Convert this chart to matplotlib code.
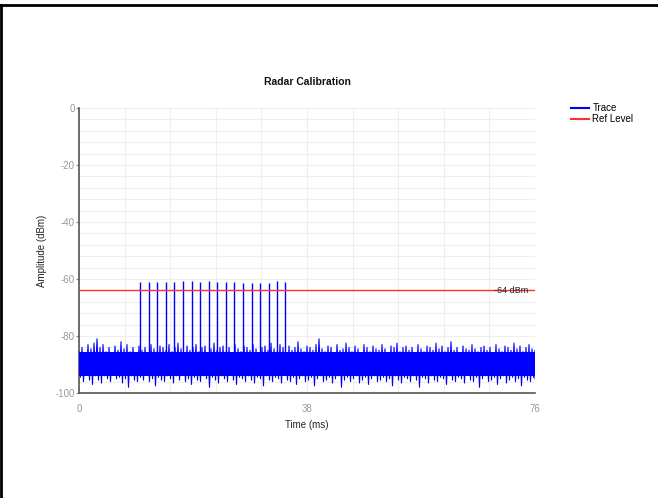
import numpy as np
import matplotlib
matplotlib.use("Agg")
import matplotlib.pyplot as plt
from matplotlib.lines import Line2D

plt.rcParams['font.family'] = ['Liberation Sans', 'DejaVu Sans']
plt.rcParams['axes.unicode_minus'] = False

# ---- data ----
title = "Radar Calibration"
x_label = "Time (ms)"
y_label = "Amplitude (dBm)"
x_ticks = [0, 38, 76]
y_ticks = [0, -20, -40, -60, -80, -100]
ref_level = -64
ref_text = "-64 dBm"

# pulse train
pulse_times = [10.2, 11.6, 13.0, 14.5, 15.9, 17.3, 18.8, 20.2, 21.6, 23.0,
               24.5, 25.9, 27.3, 28.8, 30.2, 31.6, 33.0, 34.4]
pulse_amps = [-61.0, -61.0, -61.0, -61.0, -61.0, -60.8, -60.8, -61.2, -60.8, -61.2,
              -61.2, -61.2, -61.3, -61.3, -61.3, -61.3, -60.8, -61.0]
pulse_base = -86.0

# noise floor: upper peaks and lower dips, two pairs per ms (0..76 ms)
noise_hi = [
    -85.5, -84.0, -86.0, -83.0, -84.5, -82.5, -81.0, -84.0, -83.0, -85.5,
    -84.0, -86.0, -83.5, -85.0, -82.0, -84.5, -83.0, -85.5, -84.0, -86.0,
    -83.5, -85.0, -84.0, -86.5, -83.0, -84.5, -85.5, -83.5, -84.0, -85.0,
    -83.0, -85.5, -84.0, -82.5, -84.5, -86.0, -83.5, -85.0, -84.0, -83.0,
    -85.5, -84.0, -83.5, -86.0, -84.5, -82.5, -85.0, -84.0, -83.5, -85.5,
    -84.0, -86.0, -83.0, -84.5, -85.5, -83.5, -84.0, -85.0, -83.0, -84.5,
    -86.0, -84.0, -83.5, -85.0, -82.5, -84.5, -85.5, -83.0, -84.0, -86.0,
    -83.5, -85.0, -84.0, -82.0, -84.5, -85.5, -83.5, -84.0, -85.0, -83.0,
    -81.0, -84.5, -85.5, -83.5, -84.0, -86.0, -83.0, -85.0, -84.5, -82.5,
    -84.0, -85.5, -83.5, -84.5, -86.0, -83.0, -84.0, -85.5, -83.5, -84.5,
    -85.0, -83.0, -84.5, -86.0, -83.5, -84.0, -82.5, -85.5, -84.0, -83.5,
    -85.0, -84.0, -86.0, -83.0, -84.5, -85.5, -83.5, -84.0, -85.0, -82.5,
    -84.5, -83.5, -85.5, -84.0, -82.0, -85.0, -84.0, -86.0, -83.5, -84.5,
    -85.0, -83.0, -84.5, -85.5, -84.0, -83.5, -85.0, -84.0, -86.0, -83.0,
    -84.5, -85.5, -83.5, -84.0, -85.0, -82.5, -84.5, -83.5, -85.5, -84.0,
    -83.0, -84.5, -85.0]
noise_lo = [
    -94.5, -96.0, -93.5, -95.5, -97.0, -94.0, -95.5, -96.5, -94.0, -95.0,
    -96.0, -93.5, -95.0, -94.5, -96.5, -95.0, -98.0, -94.0, -95.5, -96.0,
    -94.5, -95.5, -93.5, -96.0, -95.0, -97.5, -94.5, -95.5, -96.0, -94.0,
    -95.0, -96.5, -94.0, -95.5, -93.5, -96.0, -95.0, -97.0, -94.5, -95.5,
    -96.0, -94.0, -95.0, -98.0, -94.5, -95.5, -96.5, -94.0, -95.0, -96.0,
    -93.5, -95.5, -97.0, -94.5, -95.0, -96.0, -94.0, -95.5, -96.5, -94.5,
    -95.0, -97.5, -94.0, -95.5, -96.0, -94.5, -95.0, -96.5, -93.5, -95.5,
    -96.0, -94.5, -97.0, -95.0, -94.0, -96.0, -95.5, -94.5, -97.5, -95.0,
    -94.0, -96.0, -95.5, -94.5, -96.5, -95.0, -94.0, -98.0, -95.5, -94.5,
    -96.0, -95.0, -94.0, -96.5, -95.5, -94.5, -97.0, -95.0, -94.0, -96.0,
    -95.5, -94.5, -96.0, -95.0, -97.5, -94.0, -95.5, -96.5, -94.5, -95.0,
    -96.0, -94.0, -95.5, -98.0, -94.5, -95.0, -96.5, -94.0, -95.5, -96.0,
    -94.5, -95.0, -97.0, -94.0, -95.5, -96.0, -94.5, -95.0, -96.5, -93.5,
    -95.5, -96.0, -94.5, -98.0, -95.0, -94.0, -96.0, -95.5, -94.5, -97.0,
    -95.0, -94.0, -96.5, -95.5, -94.5, -96.0, -95.0, -97.5, -94.5, -95.5,
    -96.0, -94.5, -95.0]
noise_core = (-85.5, -94.0)

# ---- figure ----
W, H = 658, 498
fig = plt.figure(figsize=(W / 100, H / 100), dpi=100)
ax = fig.add_axes([79 / W, 1 - 393 / H, (535 - 79) / W, (393 - 108) / H])

blue = "#0000ff"
red = "#ff3030"

# noise trace as a zig-zag between peaks and dips
n = len(noise_hi)
t_hi = np.linspace(0, 76, n)
step = t_hi[1] - t_hi[0]
t_lo = np.minimum(t_hi + step / 2, 76)
tz = np.column_stack([t_hi, t_lo]).ravel()
yz = np.column_stack([noise_hi, noise_lo]).ravel()
ax.fill_between(t_hi, noise_core[0], noise_core[1], color=blue, lw=0, zorder=3)
ax.plot(tz, yz, color=blue, lw=0.8, zorder=3)
ax.vlines(pulse_times, pulse_base, pulse_amps, color=blue, lw=1.0, zorder=3)

ax.axhline(ref_level, color=red, lw=1.0, zorder=4)
ax.text(74.8, ref_level, ref_text, ha='right', va='center', fontsize=6.5,
        color='#222222', zorder=5)

ax.set_xlim(0, 76)
ax.set_ylim(-100, 0)
ax.set_xticks(x_ticks)
ax.set_yticks(y_ticks)
ax.set_xticks(np.linspace(0, 76, 11), minor=True)
ax.set_yticks(np.arange(-100, 1, 4), minor=True)
ax.grid(which='both', color='#efefef', lw=0.8, zorder=0)
ax.tick_params(which='minor', length=0)
ax.tick_params(which='major', length=2, width=0.8, color='#888888',
               labelcolor='#999999', labelsize=7, pad=1)
ax.tick_params(axis='x', length=0, pad=8)
for s in ['top', 'right']:
    ax.spines[s].set_visible(False)
for s in ['left', 'bottom']:
    ax.spines[s].set_color('#555555')
    ax.spines[s].set_linewidth(1.2)

ax.set_xlabel(x_label, fontsize=7, labelpad=4, color='#222222')
ax.set_ylabel(y_label, fontsize=7, labelpad=6, color='#222222')
fig.text(307 / W, 1 - 82 / H, title, ha='center', va='center',
         fontsize=7.5, fontweight='bold', color='#111111')

handles = [Line2D([], [], color=blue, lw=1.5), Line2D([], [], color=red, lw=1.5)]
fig.legend(handles, ["Trace", "Ref Level"], loc='upper left',
           bbox_to_anchor=(571 / W, 1 - 103 / H), frameon=False, fontsize=7,
           handlelength=1.8, handletextpad=0.4, labelspacing=0.1,
           borderaxespad=0, borderpad=0)

# outer frame lines (top and left)
fig.add_artist(Line2D([0, 1], [1 - 5 / H, 1 - 5 / H], color='black', lw=2,
                      transform=fig.transFigure))
fig.add_artist(Line2D([1 / W, 1 / W], [0, 1 - 5 / H], color='black', lw=2,
                      transform=fig.transFigure))

fig.savefig("out.png", dpi=100)
